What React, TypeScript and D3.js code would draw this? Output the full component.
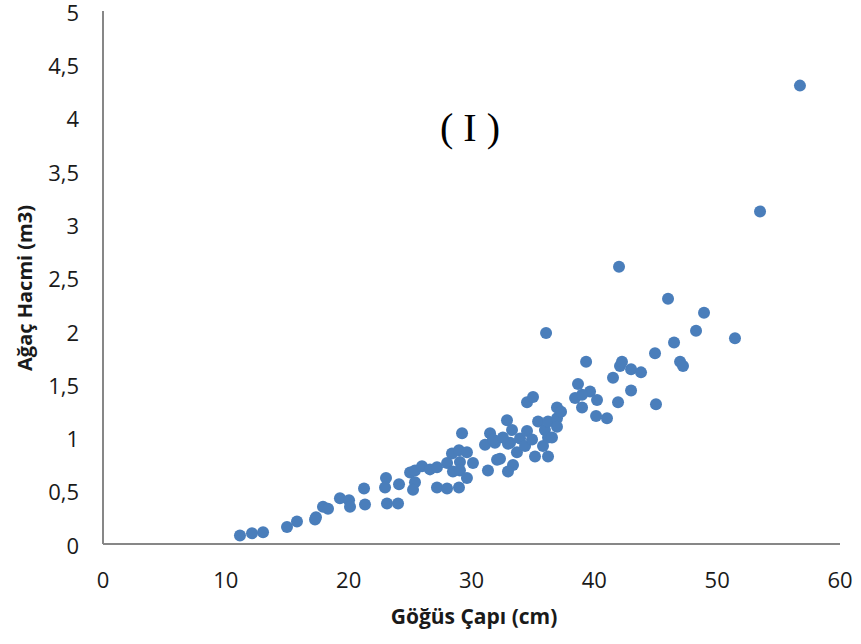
import React from 'react'
import * as d3 from 'd3'

// Göğüs çapı (cm) - x values
const diameters = [
  11.15, 12.13, 13.03, 14.98, 15.79, 17.26, 17.34, 17.91, 18.32, 19.29,
  20.03, 20.11, 21.25, 21.33, 23.04, 22.96, 23.12, 24.02, 24.1, 25.0,
  25.4, 25.4, 25.24, 25.97, 26.62, 27.19, 27.19, 28.01, 28.01, 28.41,
  28.49, 28.98, 28.98, 29.06, 29.06, 29.23, 29.63, 29.63, 30.12, 31.1,
  31.51, 31.91, 31.34, 32.08, 31.75, 32.32, 32.89, 33.3, 33.14, 33.38,
  32.97, 33.7, 32.97, 33.95, 34.52, 34.52, 35.01, 34.36, 34.93, 35.17,
  35.42, 35.98, 36.23, 35.82, 36.23, 36.55, 36.23, 36.96, 36.96, 36.96,
  37.29, 36.07, 38.43, 38.67, 39.0, 39.33, 39.65, 40.22, 40.14, 41.03,
  41.52, 41.93, 42.01, 42.09, 42.25, 42.99, 42.99, 43.8, 44.94, 45.02,
  46.0, 46.49, 46.98, 47.22, 48.28, 48.93, 51.45, 53.49, 56.74, 39.0,
  32.56,
]

// Ağaç hacmi (m3) - y values
const volumes = [
  0.08, 0.1, 0.11, 0.16, 0.21, 0.23, 0.25, 0.35, 0.33, 0.43,
  0.41, 0.35, 0.52, 0.37, 0.62, 0.53, 0.38, 0.38, 0.56, 0.67,
  0.69, 0.58, 0.51, 0.73, 0.7, 0.72, 0.53, 0.76, 0.52, 0.85,
  0.68, 0.88, 0.53, 0.77, 0.69, 1.04, 0.86, 0.62, 0.76, 0.93,
  1.04, 0.95, 0.69, 0.79, 0.98, 0.8, 1.16, 1.07, 0.95, 0.74,
  0.68, 0.86, 0.94, 0.99, 1.06, 1.33, 1.38, 0.92, 0.98, 0.82,
  1.15, 1.07, 1.15, 0.92, 1.0, 1.0, 0.82, 1.18, 1.1, 1.28,
  1.24, 1.98, 1.37, 1.5, 1.28, 1.71, 1.43, 1.35, 1.2, 1.18,
  1.56, 1.33, 2.6, 1.67, 1.71, 1.64, 1.44, 1.61, 1.79, 1.31,
  2.3, 1.89, 1.71, 1.67, 2.0, 2.17, 1.93, 3.12, 4.3, 1.4,
  1.0,
]

const xTicks = [0, 10, 20, 30, 40, 50, 60]
const yTicks = [0, 0.5, 1, 1.5, 2, 2.5, 3, 3.5, 4, 4.5, 5]

const labelFont = '"Open Sans", Calibri, sans-serif'

const App = () => {
  const svgRef = React.useRef<SVGSVGElement>(null)
  const width = 861
  const height = 644

  React.useEffect(() => {
    const svg = d3.select(svgRef.current)
    svg.selectAll('*').remove()

    const x = d3.scaleLinear().domain([0, 60]).range([103, 840])
    const y = d3.scaleLinear().domain([0, 5]).range([544, 11])

    // axis lines, no tick marks
    svg.append('line')
      .attr('x1', x(0)).attr('x2', x(0))
      .attr('y1', y(5)).attr('y2', y(0))
      .attr('stroke', '#878787').attr('stroke-width', 2)
    svg.append('line')
      .attr('x1', x(0)).attr('x2', x(60))
      .attr('y1', y(0)).attr('y2', y(0))
      .attr('stroke', '#878787').attr('stroke-width', 2)

    svg.append('g')
      .style('font', `22px ${labelFont}`)
      .attr('fill', '#1a1a1a')
      .attr('text-anchor', 'end')
      .selectAll('text')
      .data(yTicks)
      .join('text')
      .attr('x', 79)
      .attr('y', (d) => y(d) + 2)
      .attr('dy', '0.35em')
      .text((d) => String(d).replace('.', ','))

    svg.append('g')
      .style('font', `22px ${labelFont}`)
      .attr('fill', '#1a1a1a')
      .attr('text-anchor', 'middle')
      .selectAll('text')
      .data(xTicks)
      .join('text')
      .attr('x', (d) => x(d))
      .attr('y', 580)
      .attr('dy', '0.35em')
      .text((d) => d)

    svg.append('g')
      .selectAll('circle')
      .data(diameters.map((d, i) => [d, volumes[i]]))
      .join('circle')
      .attr('cx', (d) => x(d[0]))
      .attr('cy', (d) => y(d[1]))
      .attr('r', 6)
      .attr('fill', '#4a7ebb')

    svg.append('text')
      .attr('x', 474)
      .attr('y', 617)
      .attr('dy', '0.35em')
      .attr('text-anchor', 'middle')
      .style('font', `bold 21px ${labelFont}`)
      .attr('fill', '#1a1a1a')
      .text('Göğüs Çapı (cm)')

    svg.append('text')
      .attr('transform', 'translate(25,288) rotate(-90)')
      .attr('dy', '0.35em')
      .attr('text-anchor', 'middle')
      .style('font', `bold 20px ${labelFont}`)
      .attr('fill', '#1a1a1a')
      .text('Ağaç Hacmi (m3)')

    svg.append('text')
      .attr('x', 470)
      .attr('y', 127)
      .attr('dy', '0.35em')
      .attr('text-anchor', 'middle')
      .style('font', '40px "Liberation Serif", "Times New Roman", serif')
      .attr('fill', '#000')
      .text('( I )')
  }, [])

  return (
    <svg
      ref={svgRef}
      width={width}
      height={height}
      style={{ position: 'absolute', left: 0, top: 0, background: '#fff' }}
    />
  )
}

export default App
